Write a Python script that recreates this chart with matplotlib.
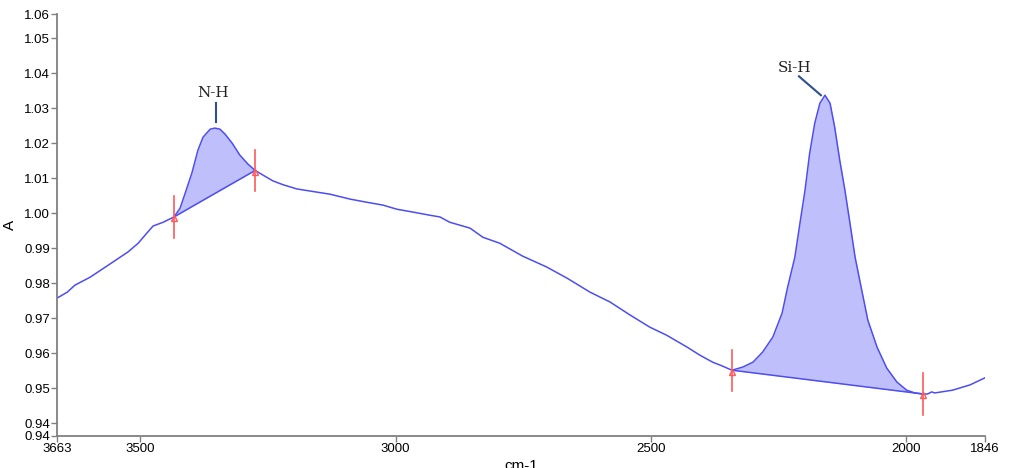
import matplotlib
matplotlib.use("Agg")
import matplotlib.pyplot as plt
import numpy as np

# spectrum (wavenumber cm-1, absorbance)
wavenumber = [3663, 3643, 3628, 3598, 3565, 3524, 3504, 3487, 3475, 3455,
              3434, 3422, 3412, 3399, 3387, 3377, 3363, 3354, 3344, 3334,
              3320, 3305, 3289, 3275, 3260, 3240, 3220, 3193, 3154, 3128,
              3089, 3056, 3025, 2997, 2966, 2933, 2913, 2894, 2854, 2829,
              2796, 2751, 2704, 2664, 2619, 2580, 2541, 2502, 2469, 2429,
              2404, 2379, 2365, 2341, 2320, 2300, 2281, 2261, 2243, 2232,
              2218, 2208, 2198, 2189, 2179, 2169, 2159, 2149, 2140, 2130,
              2120, 2110, 2100, 2087, 2075, 2057, 2038, 2018, 1999, 1983,
              1967, 1958, 1950, 1944, 1909, 1875, 1846]
absorbance = [0.9757, 0.9774, 0.9794, 0.9817, 0.9849, 0.9889, 0.9914, 0.9943, 0.9963, 0.9974,
              0.9989, 1.0014, 1.0057, 1.0114, 1.0180, 1.0217, 1.0240, 1.0243, 1.0240, 1.0226,
              1.0200, 1.0166, 1.0140, 1.0122, 1.0109, 1.0092, 1.0081, 1.0069, 1.0060, 1.0054,
              1.0040, 1.0031, 1.0023, 1.0011, 1.0003, 0.9994, 0.9989, 0.9974, 0.9957, 0.9931,
              0.9914, 0.9877, 0.9846, 0.9814, 0.9774, 0.9746, 0.9709, 0.9674, 0.9651, 0.9617,
              0.9594, 0.9574, 0.9566, 0.9551, 0.9560, 0.9574, 0.9603, 0.9646, 0.9714, 0.9789,
              0.9874, 0.9971, 1.0066, 1.0171, 1.0257, 1.0314, 1.0337, 1.0314, 1.0246, 1.0151,
              1.0066, 0.9971, 0.9874, 0.9780, 0.9694, 0.9617, 0.9557, 0.9517, 0.9494, 0.9486,
              0.9483, 0.9483, 0.9489, 0.9486, 0.9494, 0.9509, 0.9529]

# integration limits (baseline end points)
peak_names = ["N-H", "Si-H"]
peak_start = [3434, 2341]
peak_end = [3275, 1967]
label_pos = [(3358, 1.0343), (2218, 1.0414)]
leader_from = [(3352, 1.0314), (2210, 1.0391)]
leader_to = [(3352, 1.0260), (2167, 1.0337)]

x_min, x_max = 3663, 1846
y_min, y_max = 0.9363, 1.0569

line_blue = "#4d4df2"
fill_blue = "#bfc0fb"
marker_red = "#ff5a5a"

fig = plt.figure(figsize=(10.09, 4.68), dpi=100)
ax = fig.add_axes([0.0565, 0.0684, 0.9195, 0.9016])

x = np.array(wavenumber, dtype=float)
y = np.array(absorbance)

for name, x0, x1 in zip(peak_names, peak_start, peak_end):
    y0 = np.interp(x0, x[::-1], y[::-1])
    y1 = np.interp(x1, x[::-1], y[::-1])
    mask = (x <= x0) & (x >= x1)
    xs = x[mask]
    base = y0 + (y1 - y0) * (xs - x0) / (x1 - x0)
    ax.fill_between(xs, y[mask], base, color=fill_blue, lw=0, zorder=1)
    ax.plot([x0, x1], [y0, y1], color=line_blue, lw=1.1, zorder=2)
    for xm, ym in ((x0, y0), (x1, y1)):
        ax.plot([xm, xm], [ym - 0.0059, ym + 0.0059], color=marker_red, lw=1.2, zorder=3)
        ax.plot(xm, ym - 0.0004, marker="^", ms=4, mfc="none", mec=marker_red, mew=1, zorder=4)

ax.plot(x, y, color=line_blue, lw=1.1, zorder=2, solid_joinstyle="round")

for name, pos, p0, p1 in zip(peak_names, label_pos, leader_from, leader_to):
    ax.text(pos[0], pos[1], name, ha="center", va="center", fontsize=11,
            family="DejaVu Serif", color="#222222")
    ax.plot([p0[0], p1[0]], [p0[1], p1[1]], color="#2f4f8f", lw=1.5, zorder=3)

ax.set_xlim(x_min, x_max)
ax.set_ylim(y_min, y_max)
ax.set_xticks([3663, 3500, 3000, 2500, 2000, 1846])
ax.set_xticklabels(["3663", "3500", "3000", "2500", "2000", "1846"])
yt = [y_min] + [round(0.94 + 0.01 * i, 2) for i in range(12)] + [y_max]
ax.set_yticks(yt)
ax.set_yticklabels(["%.2f" % v for v in yt])

for s in ["top", "right"]:
    ax.spines[s].set_visible(False)
for s in ["left", "bottom"]:
    ax.spines[s].set_color("#808080")
    ax.spines[s].set_linewidth(1.3)

ax.tick_params(axis="both", direction="out", length=4, width=1, color="#808080",
               labelsize=9.5, pad=1)
for lab in ax.get_xticklabels() + ax.get_yticklabels():
    lab.set_family("Liberation Sans")

ax.set_ylabel("A", fontsize=11, family="Liberation Sans", labelpad=5)
ax.set_xlabel("cm-1", fontsize=11, family="Liberation Sans", labelpad=3)

plt.savefig("out.png", dpi=100)
